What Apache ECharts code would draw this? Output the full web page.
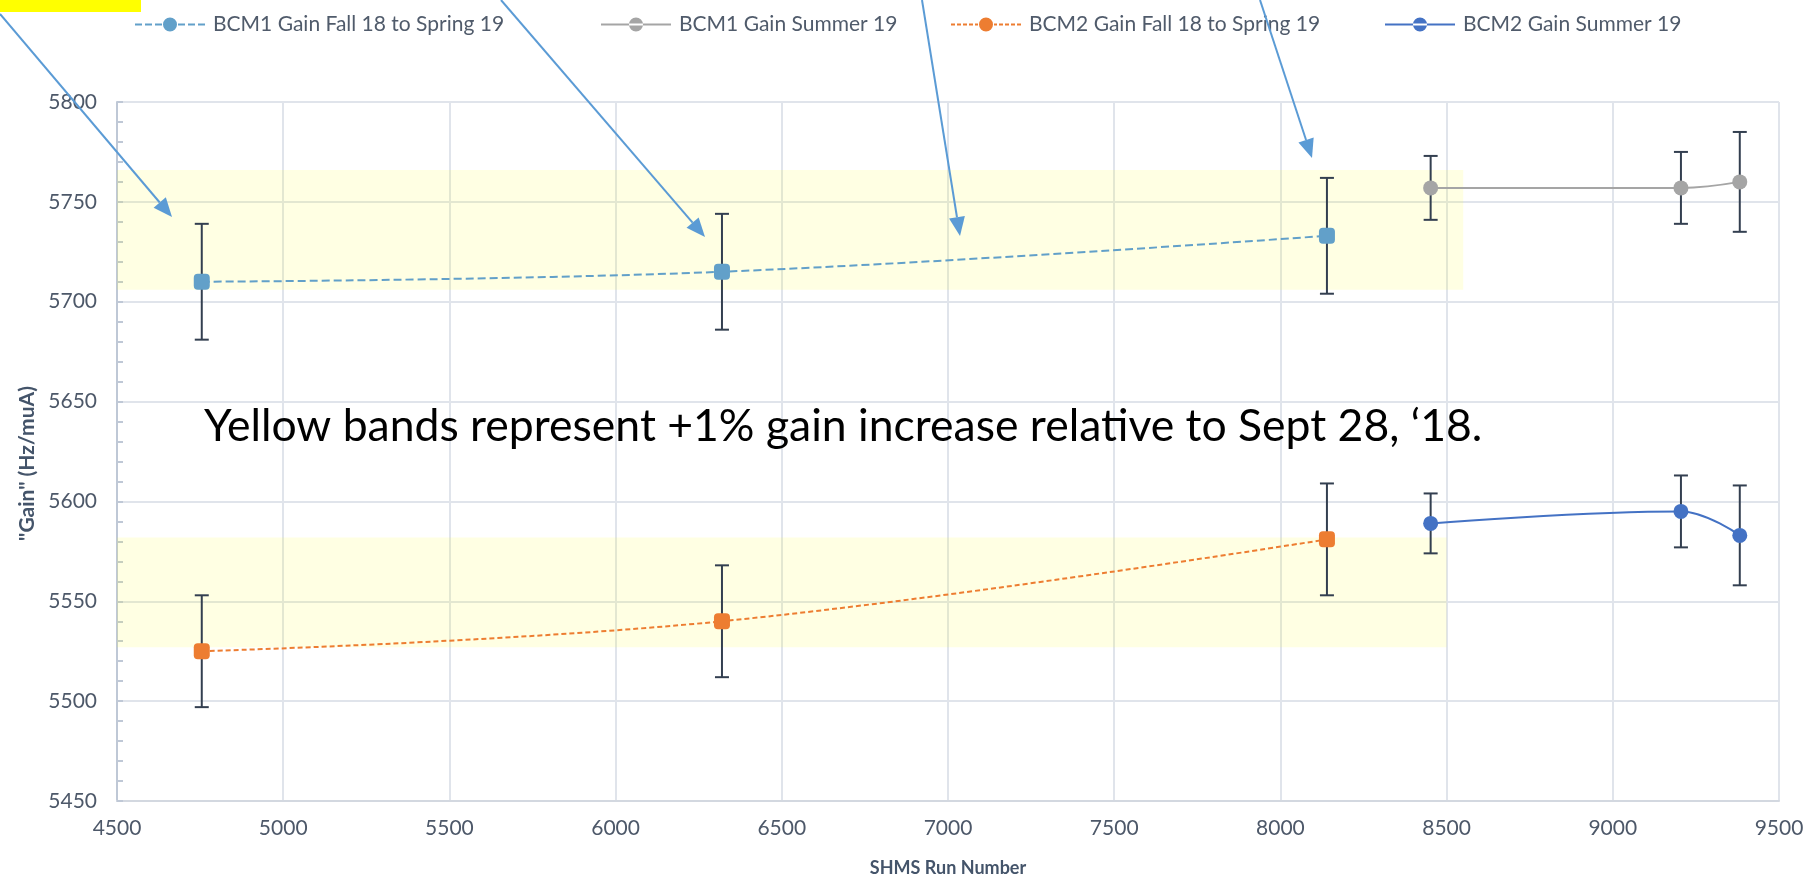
<!DOCTYPE html>
<html>
<head>
<meta charset="utf-8">
<script src="https://cdn.jsdelivr.net/npm/echarts@6/dist/echarts.min.js"></script>
<style>
  html, body { margin: 0; padding: 0; background: #fff; }
  #main { width: 1814px; height: 882px; }
</style>
</head>
<body>
<div id="main"></div>
<script>
// run numbers
const fallRuns = [4755, 6320, 8140];
const summerRuns = [8452, 9205, 9382];
// gains + errors
const bcm1Fall = [5710, 5715, 5733];
const bcm1FallErr = [29, 29, 29];
const bcm1Summer = [5757, 5757, 5760];
const bcm1SummerErr = [16, 18, 25];
const bcm2Fall = [5525, 5540, 5581];
const bcm2FallErr = [28, 28, 28];
const bcm2Summer = [5589, 5595, 5583];
const bcm2SummerErr = [15, 18, 25];
// yellow +1% bands: [xStart, xEnd, low, high]
const band1 = [4500, 8550, 5706, 5766];
const band2 = [4500, 8500, 5527, 5582];
const seriesNames = ['BCM1 Gain Fall 18 to Spring 19', 'BCM1 Gain Summer 19', 'BCM2 Gain Fall 18 to Spring 19', 'BCM2 Gain Summer 19'];
const note = 'Yellow bands represent +1% gain increase relative to Sept 28, \u201818.';

const FONT = 'Lato';
const textCol = '#4d5869';

function pairs(xs, ys) { return xs.map((x, i) => [x, ys[i]]); }
function errData(xs, ys, es) { return xs.map((x, i) => [x, ys[i] - es[i], ys[i] + es[i]]); }

// legend icons (line + circle), 70x14 box
const circ = 'M28,7A7,7,0,1,0,42,7A7,7,0,1,0,28,7Z';
function segs(list) { return list.map(s => 'M' + s[0] + ',6L' + s[1] + ',6L' + s[1] + ',8L' + s[0] + ',8Z').join(' '); }
const iconSolid = 'path://' + segs([[0, 70]]) + ' ' + circ;
const iconDash = 'path://' + segs([[0, 7], [10, 17], [20, 27], [43, 50], [53, 60], [63, 70]]) + ' ' + circ;
const iconDot = 'path://' + segs([[0, 4], [6, 10], [12, 16], [18, 22], [24, 27], [43, 46], [48, 52], [54, 58], [60, 64], [66, 70]]) + ' ' + circ;
const icons = [iconDash, iconSolid, iconDot, iconSolid];
const legendLeft = [130, 596, 946, 1380];

function renderErr(params, api) {
  const x = api.value(0);
  const lo = api.coord([x, api.value(1)]);
  const hi = api.coord([x, api.value(2)]);
  const st = { stroke: '#333f50', lineWidth: 2 };
  const h = 7;
  return {
    type: 'group',
    children: [
      { type: 'line', shape: { x1: hi[0], y1: hi[1], x2: lo[0], y2: lo[1] }, style: st },
      { type: 'line', shape: { x1: hi[0] - h, y1: hi[1], x2: hi[0] + h, y2: hi[1] }, style: st },
      { type: 'line', shape: { x1: lo[0] - h, y1: lo[1], x2: lo[0] + h, y2: lo[1] }, style: st }
    ]
  };
}

// annotation arrows (pixel positions on the slide)
const arrows = [
  [[0, 14], [172, 217]],
  [[501, 0], [705, 237]],
  [[922, 0], [960, 236]],
  [[1260, 0], [1312, 158]]
];
function arrowGraphics() {
  const out = [];
  arrows.forEach(a => {
    const [s, e] = a;
    const dx = e[0] - s[0], dy = e[1] - s[1];
    const len = Math.sqrt(dx * dx + dy * dy);
    const ux = dx / len, uy = dy / len;
    const hl = 19, hw = 8;
    const bx = e[0] - ux * hl, by = e[1] - uy * hl;
    out.push({ type: 'line', z: 100, shape: { x1: s[0], y1: s[1], x2: bx, y2: by }, style: { stroke: '#5b9bd5', lineWidth: 2 } });
    out.push({ type: 'polygon', z: 100, shape: { points: [[e[0], e[1]], [bx - uy * hw, by + ux * hw], [bx + uy * hw, by - ux * hw]] }, style: { fill: '#5b9bd5' } });
  });
  return out;
}

const chart = echarts.init(document.getElementById('main'));

const option = {
  backgroundColor: '#fff',
  animation: false,
  textStyle: { fontFamily: FONT },
  grid: { left: 117, right: 35, top: 102, bottom: 80 },
  legend: seriesNames.map((n, i) => ({
    left: legendLeft[i],
    top: 9,
    itemWidth: 70,
    itemHeight: 14,
    itemGap: 5,
    selectedMode: false,
    data: [{ name: n, icon: icons[i] }],
    itemStyle: { borderWidth: 0 },
    textStyle: { fontFamily: FONT, fontSize: 21, color: '#505b6b', padding: [0, 0, 0, 3] }
  })),
  xAxis: {
    type: 'value',
    min: 4500,
    max: 9500,
    interval: 500,
    name: 'SHMS Run Number',
    nameLocation: 'middle',
    nameGap: 58,
    nameTextStyle: { fontFamily: FONT, fontSize: 18, fontWeight: 'bold', color: '#44546a' },
    axisLine: { show: true, lineStyle: { color: '#d3d8e0', width: 2 } },
    axisTick: { show: false },
    axisLabel: { fontFamily: FONT, fontSize: 21, color: textCol, margin: 17, formatter: v => String(v) },
    splitLine: { show: true, lineStyle: { color: '#e0e4eb', width: 2 } }
  },
  yAxis: {
    type: 'value',
    min: 5450,
    max: 5800,
    interval: 50,
    name: '"Gain" (Hz/muA)',
    nameLocation: 'middle',
    nameGap: 68,
    nameTextStyle: { fontFamily: FONT, fontSize: 21, fontWeight: 'bold', color: '#44546a', padding: [0, 24, 0, 0] },
    axisLine: { show: true, lineStyle: { color: '#bfc8d6', width: 2 } },
    axisTick: { show: true, inside: true, length: 6, lineStyle: { color: '#bfc8d6', width: 2 } },
    minorTick: { show: true, splitNumber: 5, length: 6, lineStyle: { color: '#bfc8d6', width: 2 } },
    axisLabel: { fontFamily: FONT, fontSize: 21, color: textCol, margin: 20, formatter: v => String(v) },
    splitLine: { show: true, lineStyle: { color: '#e0e4eb', width: 2 } }
  },
  series: [
    {
      name: seriesNames[0], type: 'line', z: 3, smooth: 0.4,
      data: pairs(fallRuns, bcm1Fall),
      symbol: 'roundRect', symbolSize: 16,
      itemStyle: { color: '#62a0c9', borderWidth: 0 },
      lineStyle: { color: '#62a0c9', width: 2, type: [8, 4] }
    },
    {
      name: seriesNames[1], type: 'line', z: 3, smooth: 0.4,
      data: pairs(summerRuns, bcm1Summer),
      symbol: 'circle', symbolSize: 15,
      itemStyle: { color: '#a5a5a5', borderWidth: 0 },
      lineStyle: { color: '#a5a5a5', width: 2 }
    },
    {
      name: seriesNames[2], type: 'line', z: 3, smooth: 0.4,
      data: pairs(fallRuns, bcm2Fall),
      symbol: 'roundRect', symbolSize: 16,
      itemStyle: { color: '#ed7d31', borderWidth: 0 },
      lineStyle: { color: '#ed7d31', width: 2, type: [5, 3] }
    },
    {
      name: seriesNames[3], type: 'line', z: 3, smooth: 0.4,
      data: pairs(summerRuns, bcm2Summer),
      symbol: 'circle', symbolSize: 15,
      itemStyle: { color: '#4472c4', borderWidth: 0 },
      lineStyle: { color: '#4472c4', width: 2 }
    },
    {
      name: 'err', type: 'custom', z: 2, silent: true,
      renderItem: renderErr,
      data: errData(fallRuns, bcm1Fall, bcm1FallErr)
        .concat(errData(summerRuns, bcm1Summer, bcm1SummerErr))
        .concat(errData(fallRuns, bcm2Fall, bcm2FallErr))
        .concat(errData(summerRuns, bcm2Summer, bcm2SummerErr))
    },
    {
      name: 'bands', type: 'line', z: 10, silent: true, data: [],
      markArea: {
        silent: true,
        itemStyle: { color: 'rgba(255,255,0,0.11)' },
        data: [
          [{ coord: [band1[0], band1[2]] }, { coord: [band1[1], band1[3]] }],
          [{ coord: [band2[0], band2[2]] }, { coord: [band2[1], band2[3]] }]
        ]
      }
    }
  ],
  graphic: [
    { type: 'rect', left: 0, top: 0, z: 100, shape: { width: 141, height: 12 }, style: { fill: '#ffff00' } },
    { type: 'text', left: 204, top: 404, z: 100, style: { text: note, font: '44.5px Lato', fill: '#000' } }
  ].concat(arrowGraphics())
};

chart.setOption(option);
</script>
</body>
</html>
